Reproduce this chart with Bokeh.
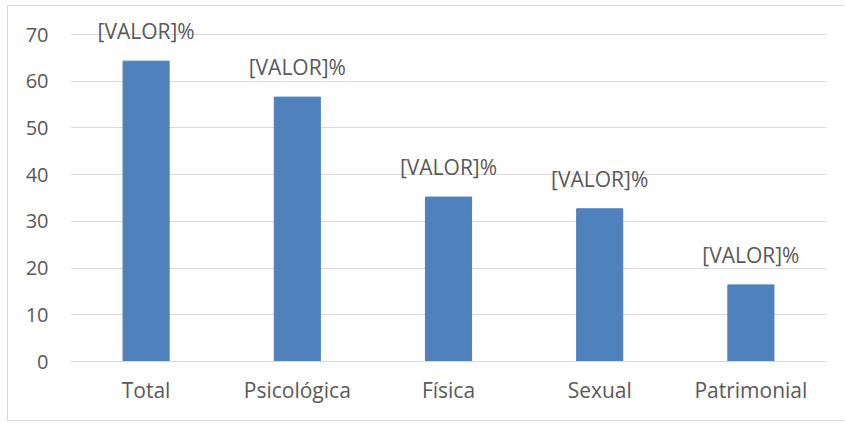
from bokeh.plotting import figure
from bokeh.models import ColumnDataSource, FixedTicker
from bokeh.core.properties import value
from bokeh.embed import file_html
from bokeh.resources import INLINE

categories = ["Total", "Psicológica", "Física", "Sexual", "Patrimonial"]
values = [64.3, 56.6, 35.2, 32.7, 16.4]
label_texts = ["[VALOR]%", "[VALOR]%", "[VALOR]%", "[VALOR]%", "[VALOR]%"]
y_ticks = [0, 10, 20, 30, 40, 50, 60, 70]

FONT = "Open Sans"
GRAY = "#595959"

src = ColumnDataSource(dict(cat=categories, val=values, lab=label_texts))

p = figure(x_range=categories, y_range=(0, 73.0), width=837, height=416,
           output_backend="svg", toolbar_location=None,
           min_border_left=62, min_border_right=19, min_border_top=14, min_border_bottom=61)
p.styles = {"border-top": "1px solid #d9d9d9", "border-left": "1px solid #d9d9d9",
            "border-bottom": "1px solid #d9d9d9", "margin-left": "7px", "margin-top": "5px"}
p.outline_line_color = None

p.vbar(x="cat", top="val", width=0.305, source=src, fill_color="#4F81BD", line_color="#4F81BD")
p.text(x="cat", y="val", text="lab", source=src, text_align="center", text_baseline="alphabetic",
       y_offset=-30, text_font=value(FONT), text_font_size="21px", text_color=GRAY)

p.yaxis.ticker = FixedTicker(ticks=y_ticks)
p.ygrid.ticker = FixedTicker(ticks=y_ticks)
p.ygrid.grid_line_color = "#d9d9d9"
p.xgrid.grid_line_color = None

for ax in (p.xaxis[0], p.yaxis[0]):
    ax.axis_line_color = None
    ax.major_tick_line_color = None
    ax.minor_tick_line_color = None
    ax.major_label_text_font = FONT
    ax.major_label_text_color = GRAY
p.yaxis.major_label_text_font_size = "20px"
p.xaxis.major_label_text_font_size = "21px"
p.yaxis.major_label_standoff = 16
p.xaxis.major_label_standoff = 8
p.xaxis.axis_line_color = "#d9d9d9"

open("out.html", "w").write(file_html(p, INLINE))
